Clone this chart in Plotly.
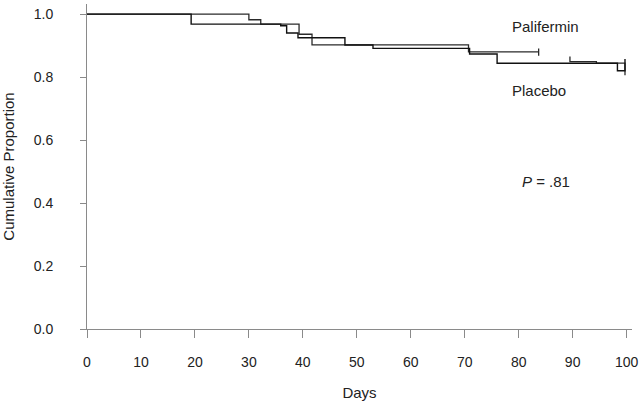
import plotly.graph_objects as go

# Kaplan-Meier style step data (days, cumulative proportion)
palifermin_days = [0, 30.0, 32.2, 39.3, 41.7, 70.7, 83.7, 83.7, 83.7, None, 89.5, 89.5, 94.4, 99.7, 99.7]
palifermin_prop = [1.0, 0.982, 0.968, 0.936, 0.902, 0.880, 0.880, 0.891, 0.868, None, 0.865, 0.849, 0.844, 0.844, 0.806]

placebo_days = [0, 19.3, 35.9, 37.0, 39.1, 47.8, 53.0, 70.9, 76.0, 98.3, 99.7, 99.7]
placebo_prop = [1.0, 0.968, 0.963, 0.940, 0.925, 0.902, 0.891, 0.873, 0.844, 0.820, 0.820, 0.857]

x_ticks = [0, 10, 20, 30, 40, 50, 60, 70, 80, 90, 100]
y_ticks = [0.0, 0.2, 0.4, 0.6, 0.8, 1.0]
y_tick_labels = ["0.0", "0.2", "0.4", "0.6", "0.8", "1.0"]

fig = go.Figure()
fig.add_trace(go.Scatter(x=palifermin_days, y=palifermin_prop, mode="lines",
                         line=dict(color="#2a2a2a", width=1.3, shape="hv"),
                         connectgaps=False, name="Palifermin", showlegend=False,
                         hoverinfo="skip"))
fig.add_trace(go.Scatter(x=placebo_days, y=placebo_prop, mode="lines",
                         line=dict(color="#111111", width=1.4, shape="hv"),
                         name="Placebo", showlegend=False, hoverinfo="skip"))

font_main = "Liberation Sans, Arial, sans-serif"

fig.add_annotation(x=85.0, y=0.959, text="Palifermin", showarrow=False,
                   font=dict(family=font_main, size=15, color="#222"))
fig.add_annotation(x=83.7, y=0.757, text="Placebo", showarrow=False,
                   font=dict(family=font_main, size=15, color="#222"))
fig.add_annotation(x=85.1, y=0.469, text="<i>P</i> = .81", showarrow=False,
                   font=dict(family=font_main, size=15, color="#222"))

fig.update_layout(
    width=640, height=407,
    margin=dict(l=87, r=8, t=4, b=78, autoexpand=False),
    paper_bgcolor="white", plot_bgcolor="white",
    font=dict(family=font_main, size=14, color="#222"),
)
fig.update_xaxes(
    range=[0, 101], tickvals=x_ticks, ticktext=[str(v) for v in x_ticks],
    automargin=False,
    showgrid=False, zeroline=False, showline=True, linecolor="#8a8a8a", linewidth=1,
    ticks="outside", ticklen=8, tickcolor="#8a8a8a", tickwidth=1,
    ticklabelstandoff=12,
    title=dict(text="Days", font=dict(size=15, color="#222"), standoff=18),
)
fig.update_yaxes(
    range=[0, 1.032], tickvals=y_ticks, ticktext=y_tick_labels,
    automargin=False,
    showgrid=False, zeroline=False, showline=True, linecolor="#8a8a8a", linewidth=1,
    ticks="outside", ticklen=6, tickcolor="#8a8a8a", tickwidth=1,
    ticklabelstandoff=24,
    title=dict(text="Cumulative Proportion", font=dict(size=15, color="#222"), standoff=18),
)

fig.write_html("out.html", config={"displayModeBar": False},
               post_script="document.body.style.margin='0';document.body.style.padding='0';")
